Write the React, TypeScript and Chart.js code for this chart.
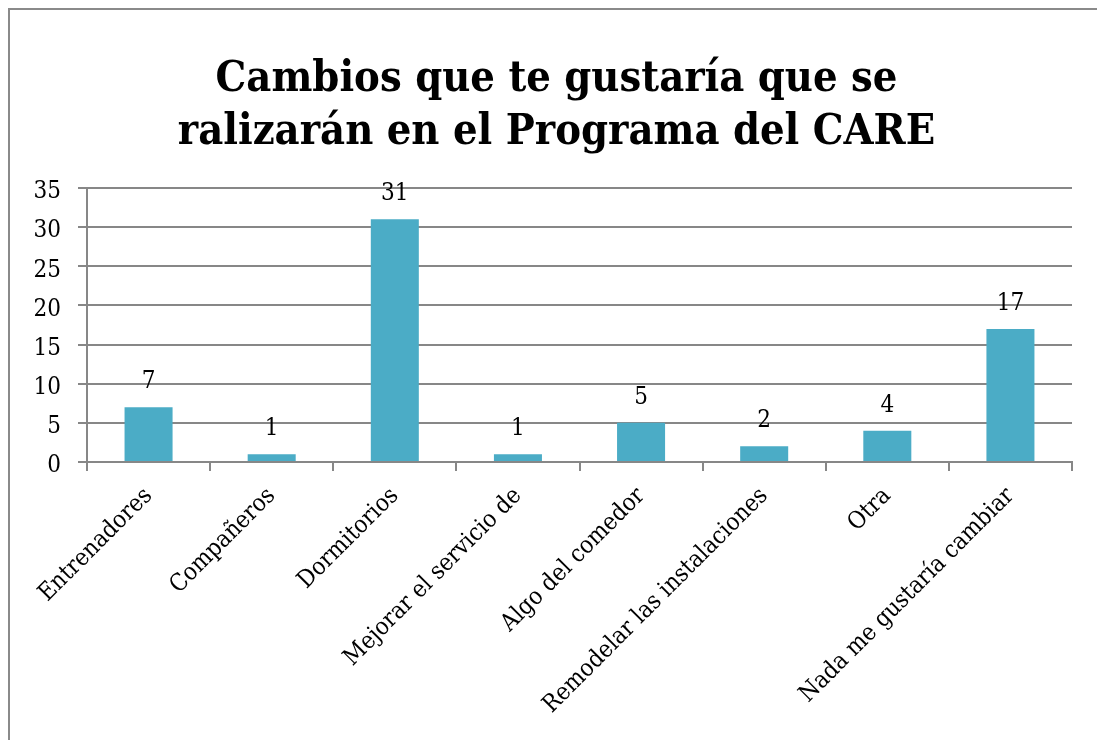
import React, { useEffect, useRef } from "react";
import { Chart, registerables } from "chart.js";

Chart.register(...registerables);

const titleLines = ["Cambios que te gustaría que se", "ralizarán en el Programa del CARE"];
const categories = [
  "Entrenadores",
  "Compañeros",
  "Dormitorios",
  "Mejorar el servicio de",
  "Algo del comedor",
  "Remodelar las instalaciones",
  "Otra",
  "Nada me gustaría cambiar",
];
const values = [7, 1, 31, 1, 5, 2, 4, 17];
const yMin = 0;
const yMax = 35;
const yStep = 5;

const SERIF = '"DejaVu Serif Condensed", "Liberation Serif", serif';
const GRID = "#878787";
const BAR = "#4BACC6";

const labelPlugin = {
  id: "valueLabels",
  afterDatasetsDraw(chart: any) {
    const { ctx } = chart;
    const meta = chart.getDatasetMeta(0);
    ctx.save();
    ctx.font = `24px ${SERIF}`;
    ctx.fillStyle = "#000";
    ctx.textAlign = "center";
    ctx.textBaseline = "alphabetic";
    meta.data.forEach((el: any, i: number) => {
      ctx.fillText(String(values[i]), el.x, el.y - 19);
    });
    ctx.restore();
  },
};

const titlePlugin = {
  id: "customTitle",
  afterDraw(chart: any) {
    const { ctx, width } = chart;
    ctx.save();
    ctx.font = `bold 43px ${SERIF}`;
    ctx.fillStyle = "#000";
    ctx.textAlign = "center";
    ctx.textBaseline = "alphabetic";
    ctx.fillText(titleLines[0], width / 2 + 3, 81);
    ctx.fillText(titleLines[1], width / 2 + 3, 134);
    ctx.restore();
  },
};

export default function App() {
  const ref = useRef<HTMLCanvasElement>(null);
  useEffect(() => {
    if (!ref.current) return;
    const chart = new Chart(ref.current, {
      type: "bar",
      data: {
        labels: categories,
        datasets: [
          {
            data: values,
            backgroundColor: BAR,
            borderWidth: 0,
            barPercentage: 0.39,
            categoryPercentage: 1,
          },
        ],
      },
      options: {
        animation: false,
        responsive: false,
        layout: { padding: { top: 178, right: 25, left: 0, bottom: 0 } },
        plugins: { legend: { display: false }, title: { display: false }, tooltip: { enabled: false } },
        scales: {
          x: {
            grid: { display: true, drawOnChartArea: false, drawTicks: true, tickLength: 9, color: GRID, lineWidth: 2, offset: true },
            border: { display: true, color: GRID, width: 2 },
            ticks: {
              color: "#000",
              font: { family: SERIF, size: 24 },
              maxRotation: 45,
              minRotation: 45,
              autoSkip: false,
              padding: 11,
            },
            afterFit(scale: any) {
              scale.height = 278;
            },
          },
          y: {
            min: yMin,
            max: yMax,
            grid: { color: GRID, lineWidth: 2, tickLength: 9, drawTicks: true },
            border: { display: true, color: GRID, width: 2 },
            ticks: {
              stepSize: yStep,
              color: "#000",
              font: { family: SERIF, size: 24 },
              padding: 17,
              labelOffset: 4,
            },
            afterFit(scale: any) {
              scale.width = 77;
            },
          },
        },
      },
      plugins: [labelPlugin, titlePlugin],
    });
    return () => chart.destroy();
  }, []);
  return (
    <div
      style={{
        position: "fixed",
        left: 8,
        top: 8,
        width: 1200,
        height: 800,
        borderLeft: "2px solid #8a8a8a",
        borderTop: "2px solid #8a8a8a",
        boxSizing: "border-box",
      }}
    >
      <canvas ref={ref} width={1087} height={730} style={{ display: "block" }} />
    </div>
  );
}
